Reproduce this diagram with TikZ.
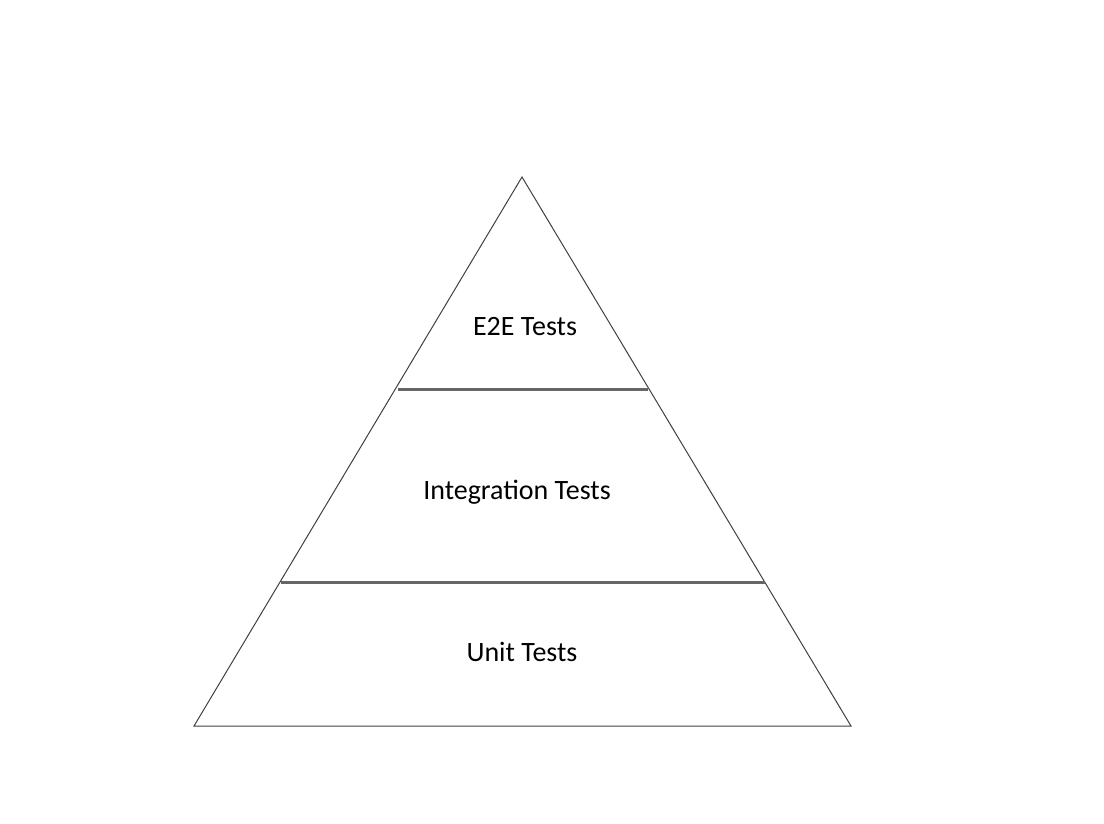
\documentclass[tikz,border=0pt]{standalone}
\usepackage{fontspec}
\setmainfont{Carlito}
\begin{document}
\begin{tikzpicture}[x=1pt,y=-1pt,
  lbl/.style={font=\fontsize{28}{32}\selectfont, inner sep=0pt},
  sep/.style={draw=black!60, line width=3pt}]
\useasboundingbox (0,0) rectangle (1104,824);
\coordinate (apex) at (522,177);
\coordinate (bl) at (194,726);
\coordinate (br) at (851,726);
\draw[black!75, line width=1pt] (apex) -- (br) -- (bl) -- cycle;
\coordinate (a1) at (398,389); \coordinate (a2) at (648,389);
\coordinate (b1) at (281,582); \coordinate (b2) at (765,582);
\draw[sep] (a1) -- (a2);
\draw[sep] (b1) -- (b2);
\node[lbl] (e2e) at (525,327) {E2E Tests};
\node[lbl] (int) at (517,492) {Integration Tests};
\node[lbl] (unit) at (522,652) {Unit Tests};
\end{tikzpicture}
\end{document}
